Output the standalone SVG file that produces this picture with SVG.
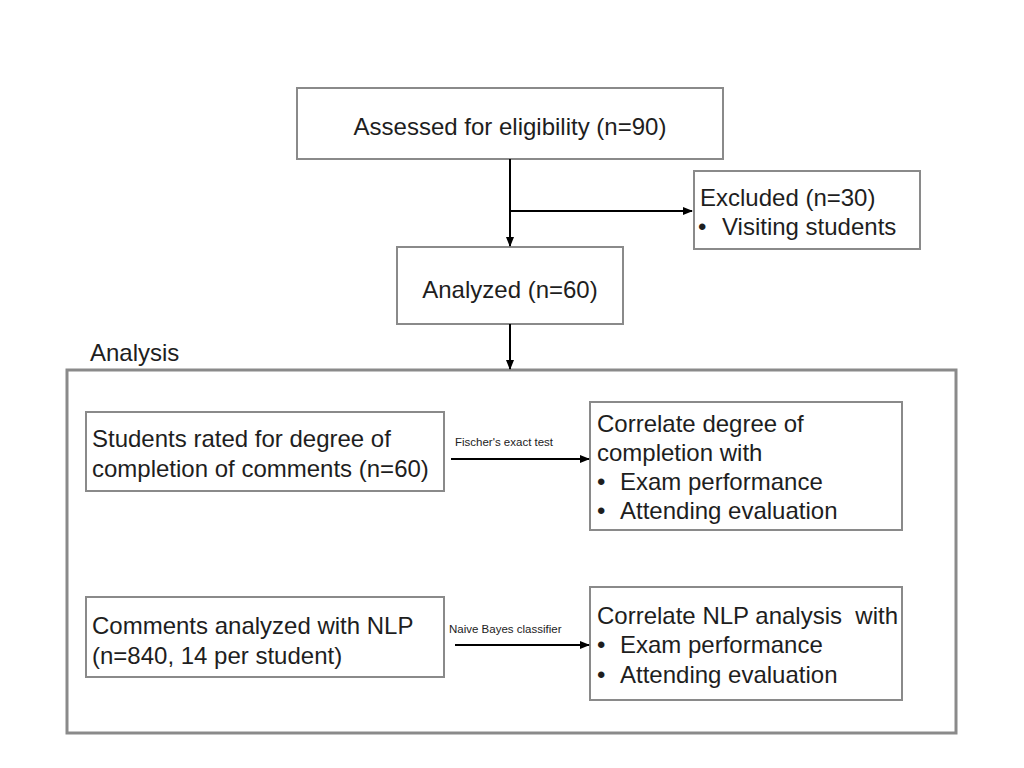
<svg xmlns="http://www.w3.org/2000/svg" width="1024" height="768" viewBox="0 0 1024 768">
<style>
.box{fill:#fff;stroke:#8a8a8a;stroke-width:2}
.cont{fill:none;stroke:#8a8a8a;stroke-width:3}
.t{font-family:"Liberation Sans",Arial,sans-serif;font-size:24px;fill:#1e1e1e}
.s{font-family:"Liberation Sans",Arial,sans-serif;font-size:11.5px;fill:#222}
.ln{stroke:#000;stroke-width:2;fill:none}
</style>
<defs>
<marker id="ah" markerWidth="10" markerHeight="10" refX="9" refY="5" orient="auto" markerUnits="userSpaceOnUse">
<path d="M0,1 L10,5 L0,9 Z" fill="#000"/>
</marker>
</defs>
<rect width="1024" height="768" fill="#fff"/>
<g id="analysis">
<rect class="cont" x="67" y="370" width="889" height="363"/>
<text class="t" x="90" y="361">Analysis</text>
</g>
<g id="assessed">
<rect class="box" x="297" y="88" width="426" height="71"/>
<text class="t" x="510" y="135" text-anchor="middle">Assessed for eligibility (n=90)</text>
</g>
<g id="excluded">
<rect class="box" x="694" y="171" width="226" height="78"/>
<text class="t" x="700" y="206">Excluded (n=30)</text>
<text class="t" y="235"><tspan x="698">•</tspan><tspan x="722">Visiting students</tspan></text>
</g>
<g id="analyzed">
<rect class="box" x="397" y="247" width="226" height="77"/>
<text class="t" x="510" y="298" text-anchor="middle">Analyzed (n=60)</text>
</g>
<g id="rated">
<rect class="box" x="86" y="412" width="358" height="79"/>
<text class="t" x="92" y="447">Students rated for degree of</text>
<text class="t" x="92" y="477">completion of comments (n=60)</text>
</g>
<g id="corr1">
<rect class="box" x="590" y="402" width="312" height="128"/>
<text class="t" x="597" y="432">Correlate degree of</text>
<text class="t" x="597" y="461">completion with</text>
<text class="t" y="490"><tspan x="597">•</tspan><tspan x="620">Exam performance</tspan></text>
<text class="t" y="519"><tspan x="597">•</tspan><tspan x="620">Attending evaluation</tspan></text>
</g>
<g id="nlp">
<rect class="box" x="86" y="597" width="358" height="80"/>
<text class="t" x="92" y="634">Comments analyzed with NLP</text>
<text class="t" x="92" y="664">(n=840, 14 per student)</text>
</g>
<g id="corr2">
<rect class="box" x="590" y="587" width="312" height="113"/>
<text class="t" x="597" y="624" xml:space="preserve">Correlate NLP analysis  with</text>
<text class="t" y="653"><tspan x="597">•</tspan><tspan x="620">Exam performance</tspan></text>
<text class="t" y="683"><tspan x="597">•</tspan><tspan x="620">Attending evaluation</tspan></text>
</g>
<g id="connectors">
<line class="ln" x1="510" y1="159" x2="510" y2="246" marker-end="url(#ah)"/>
<line class="ln" x1="510" y1="211" x2="692" y2="211" marker-end="url(#ah)"/>
<line class="ln" x1="510" y1="324" x2="510" y2="369" marker-end="url(#ah)"/>
<line class="ln" x1="451" y1="459" x2="589" y2="459" marker-end="url(#ah)"/>
<text class="s" x="455" y="446">Fischer's exact test</text>
<line class="ln" x1="455" y1="645" x2="589" y2="645" marker-end="url(#ah)"/>
<text class="s" x="449" y="633">Naive Bayes classifier</text>
</g>
</svg>
